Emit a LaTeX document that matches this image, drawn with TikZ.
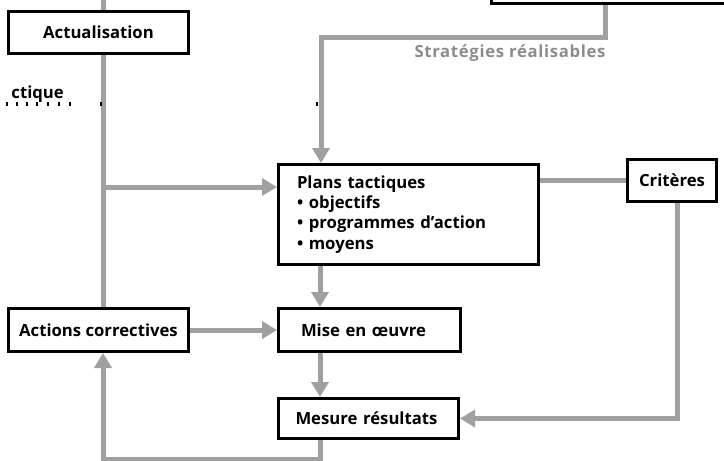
\documentclass[tikz,border=0pt]{standalone}
\usepackage{fontspec}
\setmainfont{Open Sans}
\usetikzlibrary{arrows.meta,calc}
\definecolor{flowgray}{HTML}{A0A0A0}
\definecolor{labgray}{HTML}{8C8C8C}
\pgfdeclarelayer{bg}
\pgfsetlayers{bg,main}
\tikzset{
  box/.style={draw=black, line width=3pt, fill=white, inner sep=0pt,
    font=\bfseries\fontsize{16.7}{20.3}\selectfont},
  flow/.style={draw=flowgray, line width=5pt},
  arr/.style={flow, -{Triangle[length=15pt,width=17pt]}},
  tick/.style={draw=black, line width=1.2pt}
}
\begin{document}
\begin{tikzpicture}[x=1pt,y=-1pt]
\useasboundingbox (0,0) rectangle (724,461);
\clip (0,0) rectangle (724,461);
% boxes
\node[box, minimum width=180pt, minimum height=42pt] (act) at (98.5,32.5) {Actualisation};
\node[box, minimum width=180pt, minimum height=43pt] (corr) at (98.5,330) {Actions correctives};
\node[box, minimum width=260pt, minimum height=100pt, text width=223pt, align=left, inner xsep=18.5pt] (plans) at (408.5,214.5)
  {Plans tactiques\\ • objectifs\\ • programmes d’action\\ • moyens};
\node[box, minimum width=182pt, minimum height=43pt, text width=137pt, align=left, inner xsep=22.5pt] (mise) at (369.5,330) {Mise en œuvre};
\node[box, minimum width=180pt, minimum height=40pt, text width=146pt, align=left, inner xsep=17pt] (mes) at (368.5,418.5) {Mesure résultats};
\node[box, minimum width=89pt, minimum height=42pt] (crit) at (672,180.5) {Critères};
\node[box, minimum width=270pt, minimum height=40pt] (top) at (626,-16.5) {};
% labels
\node[font=\bfseries\fontsize{16.7}{20}\selectfont\addfontfeature{LetterSpace=4}, text=labgray] (lbl) at (510,53) {Stratégies réalisables};
\node[font=\bfseries\fontsize{16.7}{20}\selectfont, anchor=base east, inner sep=0pt] (niv) at (64,98) {ctique};
% ticks of the level line
\foreach \x in {7,17,27,37,48,59,70,101,317}
  \draw[tick] (\x,102) -- (\x,106);
% coordinates
\coordinate (topL) at (103,-3);
\coordinate (j1) at (103,187);
\coordinate (s1) at (605,37);
\coordinate (s2) at (321,37);
\coordinate (cx) at (320,0);
\coordinate (c1) at (677,418.5);
\coordinate (b1) at (320,459);
\coordinate (b2) at (103,459);
\begin{pgfonlayer}{bg}
\draw[flow] (topL) -- (topL |- corr.north);
\end{pgfonlayer}
\draw[arr] (j1) -- (j1 -| plans.west);
\draw[arr] (s1 |- top.south) -- (s1) -- (s2) -- (s2 |- plans.north);
\draw[arr] (cx |- plans.south) -- (cx |- mise.north);
\draw[arr] (cx |- mise.south) -- (cx |- mes.north);
\draw[arr] (corr.east) -- (mise.west);
\draw[flow] (crit.west -| plans.east) -- (crit.west);
\draw[arr] (c1 |- crit.south) -- (c1) -- (mes.east);
\draw[arr] (b1 |- mes.south) -- (b1) -- (b2) -- (b2 |- corr.south);
\end{tikzpicture}
\end{document}
